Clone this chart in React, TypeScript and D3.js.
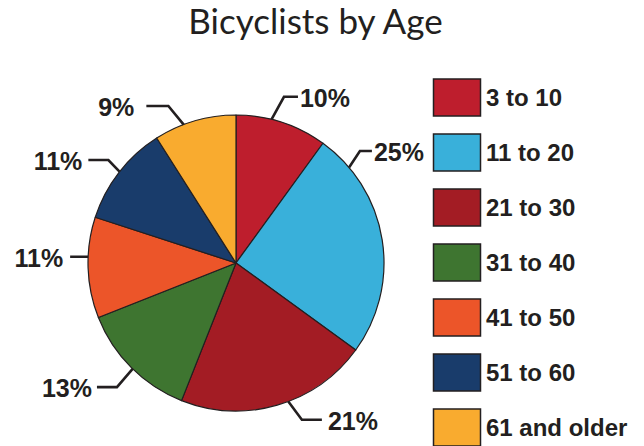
import React from 'react';
import * as d3 from 'd3';

// chart data
const ageGroups = ['3 to 10', '11 to 20', '21 to 30', '31 to 40', '41 to 50', '51 to 60', '61 and older'];
const shares = [10, 25, 21, 13, 11, 11, 9];
const sliceColors = ['#BE1E2D', '#39B0DA', '#A31C24', '#3E7530', '#EC5529', '#193C6B', '#F9AB2F'];

// leader lines: where they touch the pie, where they bend, tail length and text gap (degrees / px)
const leaderAnchor = [13.9, 49.8, 159.3, 224.3, 272.4, 308.1, 339.3];
const leaderElbowAngle = [16.1, 47.9, 157.2, 223.8, 272.4, 308.9, 336.7];
const leaderElbowRadius = [173, 167, 170, 172, 149, 164, 171];
const leaderTail = [14, 12, 20, 20, 17, 20, 22];
const leaderGap = [2, 2, 6, 5, 7, 6, 12];

const W = 644;
const H = 446;
const cx = 236;
const cy = 263;
const radius = 148;
const ink = '#231F20';
const labelFont = '"Liberation Sans", Arial, sans-serif';

const polar = (deg: number, r: number): [number, number] => {
    const a = (deg * Math.PI) / 180;
    return [cx + r * Math.sin(a), cy - r * Math.cos(a)];
};

export default function App() {
    const pie = d3.pie<number>().sort(null).value((d) => d);
    const arcs = pie(shares);
    const arc = d3.arc<d3.PieArcDatum<number>>().innerRadius(0).outerRadius(radius);

    // legend rows
    const legendY = d3.scaleBand<string>().domain(ageGroups).range([79, 79 + 55 * ageGroups.length]);

    return (
        <svg width={W} height={H} style={{position: 'absolute', left: 0, top: 0, background: '#fff'}}>
            <text x={315.5} y={34} textAnchor="middle" fontFamily="Lato, 'Open Sans', sans-serif"
                  fontSize={35} fill={ink}>Bicyclists by Age</text>

            <g transform={`translate(${cx},${cy})`}>
                {arcs.map((a, i) => (
                    <path key={i} d={arc(a) || ''} fill={sliceColors[i]} stroke={ink} strokeWidth={1.2}
                          strokeLinejoin="round"/>
                ))}
            </g>

            {arcs.map((a, i) => {
                const start = polar(leaderAnchor[i], radius);
                const elbow = polar(leaderElbowAngle[i], leaderElbowRadius[i]);
                const right = leaderElbowAngle[i] < 180;
                const endX = elbow[0] + (right ? leaderTail[i] : -leaderTail[i]);
                const pts = [start, elbow, [endX, elbow[1]]];
                return (
                    <g key={i}>
                        <path d={d3.line()(pts as [number, number][]) || ''} fill="none" stroke={ink}
                              strokeWidth={2.6}/>
                        <text x={endX + (right ? leaderGap[i] : -leaderGap[i])} y={elbow[1] + 1}
                              dominantBaseline="central" textAnchor={right ? 'start' : 'end'}
                              fontFamily={labelFont} fontWeight="bold" fontSize={25} fill={ink}>
                            {`${shares[i]}%`}
                        </text>
                    </g>
                );
            })}

            {ageGroups.map((g, i) => {
                const y = legendY(g) || 0;
                return (
                    <g key={g}>
                        <rect x={433.5} y={y} width={47} height={37} fill={sliceColors[i]} stroke={ink}
                              strokeWidth={1.5}/>
                        <text x={486} y={y + 18} dominantBaseline="central" fontFamily={labelFont}
                              fontWeight="bold" fontSize={24} fill={ink}>{g}</text>
                    </g>
                );
            })}
        </svg>
    );
}
